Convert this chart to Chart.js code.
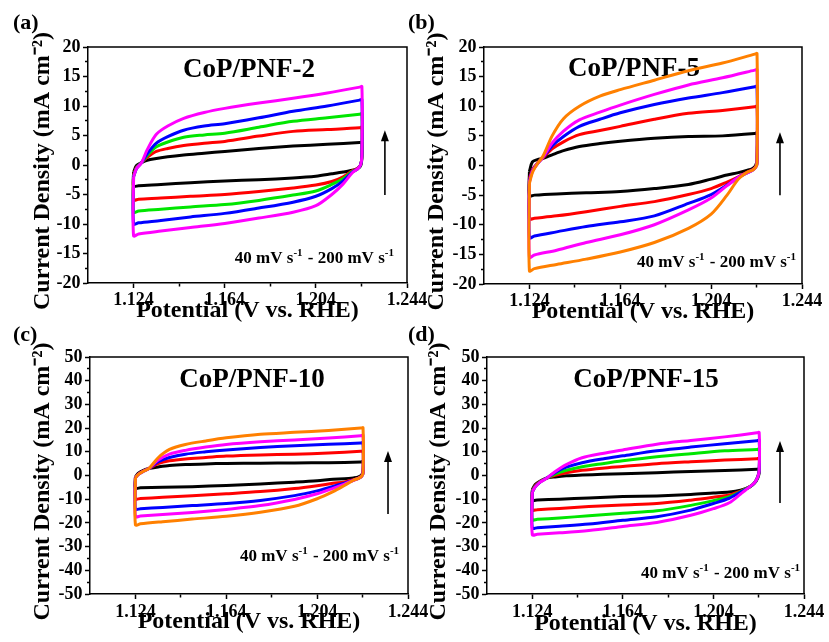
<!DOCTYPE html>
<html lang="en">
<head>
<meta charset="UTF-8">
<title>CoP/PNF cyclic voltammetry</title>
<script src="https://cdn.jsdelivr.net/npm/chart.js"></script>
<style>
  body { margin: 0; background: #fff; }
  #wrap { position: relative; width: 829px; height: 642px; }
  #wrap canvas { position: absolute; left: 0; top: 0; }
</style>
</head>
<body>
<div id="wrap">
  <canvas id="panelA" width="829" height="642"></canvas>
  <canvas id="panelB" width="829" height="642"></canvas>
  <canvas id="panelC" width="829" height="642"></canvas>
  <canvas id="panelD" width="829" height="642"></canvas>
</div>
<script>
// potential grid (V vs. RHE): anodic sweep left->right, cathodic sweep right->left
const xUp   = [1.124, 1.1253, 1.1275, 1.130, 1.134, 1.139, 1.146, 1.155, 1.164, 1.179, 1.194, 1.209, 1.2232, 1.2242];
const xDown = [1.2242, 1.2236, 1.2222, 1.220, 1.216, 1.211, 1.204, 1.194, 1.179, 1.164, 1.149, 1.136, 1.1262, 1.124];

const scanRates = [40, 80, 120, 160, 200]; // mV/s

const xTicks = [1.124, 1.144, 1.164, 1.184, 1.204, 1.224, 1.244];
const xLabels = [1.124, 1.164, 1.204, 1.244];
const yTicks20 = [-20, -17.5, -15, -12.5, -10, -7.5, -5, -2.5, 0, 2.5, 5, 7.5, 10, 12.5, 15, 17.5, 20];
const yLabels20 = [-20, -15, -10, -5, 0, 5, 10, 15, 20];
const yTicks50 = [-50, -45, -40, -35, -30, -25, -20, -15, -10, -5, 0, 5, 10, 15, 20, 25, 30, 35, 40, 45, 50];
const yLabels50 = [-50, -40, -30, -20, -10, 0, 10, 20, 30, 40, 50];

// current density (mA cm-2), one row per scan rate, slowest first
// CoP/PNF-2
const pnf2Up = [
  [-1.2, -0.1, 0.4, 0.8, 1.1, 1.4, 1.7, 2.0, 2.3, 2.8, 3.2, 3.5, 3.8, 3.8],
  [-1.6, -0.4, 0.4, 1.3, 2.3, 2.8, 3.3, 3.7, 4.0, 4.9, 5.7, 6.0, 6.3, 6.4],
  [-1.8, -0.5, 0.4, 1.6, 3.1, 3.9, 4.7, 5.1, 5.4, 6.4, 7.4, 8.0, 8.6, 8.7],
  [-2.0, -0.6, 0.4, 1.9, 3.7, 4.8, 5.9, 6.6, 7.0, 8.0, 9.1, 10.0, 11.0, 11.1],
  [-2.0, -0.6, 0.4, 2.6, 5.2, 6.6, 7.9, 8.9, 9.6, 10.5, 11.3, 12.2, 13.2, 13.3]
];
const pnf2Down = [
  [1.2, -0.2, -0.6, -0.9, -1.2, -1.5, -1.9, -2.2, -2.5, -2.7, -3.0, -3.3, -3.5, -3.6],
  [1.5, 0.0, -0.6, -1.0, -2.0, -2.8, -3.4, -3.9, -4.5, -5.0, -5.3, -5.6, -5.8, -5.9],
  [1.5, 0.0, -0.7, -1.1, -2.3, -3.3, -4.4, -5.1, -6.0, -6.7, -7.1, -7.5, -7.8, -8.0],
  [1.5, 0.0, -0.7, -1.2, -2.7, -4.0, -5.3, -6.3, -7.3, -8.2, -8.8, -9.4, -9.8, -10.0],
  [1.5, 0.0, -0.7, -1.3, -3.2, -5.0, -6.9, -8.0, -9.0, -9.9, -10.6, -11.2, -11.7, -12.0]
];
// CoP/PNF-5
const pnf5Up = [
  [-1.0, 0.6, 1.0, 1.2, 1.8, 2.5, 3.2, 3.7, 4.1, 4.6, 4.9, 5.0, 5.4, 5.5],
  [-2.2, -0.7, 0.4, 1.3, 2.8, 4.0, 5.2, 5.9, 6.6, 7.8, 8.8, 9.3, 9.9, 10.0],
  [-2.6, -0.9, 0.3, 1.4, 3.3, 4.9, 6.6, 7.8, 8.9, 10.3, 11.4, 12.3, 13.3, 13.4],
  [-2.8, -1.0, 0.3, 1.4, 3.8, 5.8, 7.7, 9.0, 10.2, 12.0, 13.6, 14.8, 16.1, 16.2],
  [-3.0, -1.2, 0.3, 1.6, 5.0, 7.9, 10.0, 11.7, 12.8, 14.4, 16.0, 17.3, 18.8, 18.9]
];
const pnf5Down = [
  [1.0, 0.0, -0.5, -0.8, -1.2, -1.6, -2.3, -3.2, -3.9, -4.4, -4.6, -4.8, -5.0, -5.1],
  [0.6, -0.2, -0.7, -1.1, -1.9, -2.8, -3.9, -4.9, -6.1, -6.9, -7.8, -8.5, -8.9, -9.0],
  [0.4, -0.3, -0.8, -1.2, -2.0, -3.3, -4.9, -6.4, -8.5, -9.5, -10.3, -11.2, -11.9, -12.2],
  [0.4, -0.3, -0.8, -1.2, -2.0, -3.4, -5.5, -7.5, -10.0, -11.7, -13.0, -14.3, -15.1, -15.5],
  [0.4, -0.3, -0.8, -1.1, -2.3, -5.0, -8.2, -10.6, -13.0, -14.6, -15.8, -16.7, -17.4, -17.8]
];
// CoP/PNF-10
const pnf10Up = [
  [-0.5, 1.0, 2.2, 3.0, 3.6, 4.2, 4.6, 4.9, 5.1, 5.2, 5.3, 5.4, 5.7, 5.8],
  [-0.8, 0.6, 1.9, 3.0, 5.0, 6.2, 7.0, 7.6, 8.2, 8.7, 9.0, 9.5, 10.2, 10.3],
  [-1.0, 0.5, 1.8, 3.0, 5.8, 7.6, 9.0, 10.0, 10.8, 11.8, 12.6, 13.2, 13.7, 13.8],
  [-1.0, 0.5, 1.8, 3.0, 6.5, 9.0, 10.6, 12.0, 13.1, 14.2, 15.0, 15.8, 16.8, 16.9],
  [-1.0, 0.5, 1.8, 3.0, 7.5, 11.0, 13.1, 14.6, 15.9, 17.4, 18.2, 19.0, 20.0, 20.1]
];
const pnf10Down = [
  [2.0, 0.3, -0.6, -1.0, -1.4, -1.6, -2.2, -2.8, -3.6, -4.2, -4.7, -5.0, -5.2, -5.3],
  [1.2, -0.2, -1.1, -1.8, -2.7, -3.3, -4.3, -5.5, -6.8, -7.7, -8.5, -9.2, -9.7, -9.9],
  [1.0, -0.3, -1.2, -2.0, -3.2, -4.6, -6.5, -8.5, -10.5, -11.8, -12.7, -13.5, -14.0, -14.2],
  [1.0, -0.3, -1.2, -2.0, -3.6, -5.4, -7.7, -10.1, -12.7, -14.3, -15.6, -16.5, -17.1, -17.3],
  [1.0, -0.3, -1.2, -2.0, -4.2, -6.8, -9.8, -13.0, -15.5, -17.2, -18.4, -19.5, -20.4, -20.8]
];
// CoP/PNF-15
const pnf15Up = [
  [-6.0, -3.8, -2.3, -1.2, -0.6, -0.1, 0.2, 0.5, 0.7, 1.2, 1.7, 2.1, 2.6, 2.7],
  [-6.5, -4.3, -2.5, -1.2, 0.1, 1.2, 2.2, 3.1, 3.8, 5.0, 5.8, 6.5, 7.1, 7.2],
  [-7.0, -4.6, -2.7, -1.3, 0.6, 2.2, 3.7, 5.0, 6.2, 7.9, 9.2, 10.4, 11.0, 11.1],
  [-7.0, -4.8, -2.8, -1.3, 1.2, 3.5, 5.4, 7.0, 8.3, 10.4, 12.0, 13.4, 14.7, 14.8],
  [-7.0, -4.8, -2.8, -1.4, 1.6, 4.6, 7.5, 9.3, 10.8, 13.2, 14.8, 16.3, 18.0, 18.1]
];
const pnf15Down = [
  [1.0, -1.0, -3.2, -4.8, -6.2, -7.0, -7.4, -8.0, -8.6, -8.9, -9.5, -10.0, -10.3, -10.4],
  [2.0, -0.5, -3.0, -4.8, -6.6, -8.2, -9.2, -10.4, -11.8, -12.4, -13.1, -13.9, -14.4, -14.6],
  [2.0, -0.5, -3.0, -4.8, -6.8, -8.9, -10.6, -12.6, -14.9, -15.9, -17.0, -17.9, -18.5, -18.7],
  [2.0, -0.5, -3.0, -4.8, -7.0, -9.6, -11.8, -14.6, -17.4, -18.9, -20.5, -21.4, -22.0, -22.2],
  [2.0, -0.5, -3.0, -4.8, -7.8, -11.5, -14.0, -16.8, -19.8, -21.5, -23.2, -24.2, -24.8, -25.0]
];

const serif = "'Liberation Serif', 'Times New Roman', serif";
const BLACK = '#000000', RED = '#ff0000', GREEN = '#00e600', BLUE = '#0000ff', MAGENTA = '#ff00ff', ORANGE = '#ff8000';

// layout of each panel: plot box [left, top, right, bottom] in page pixels, plus text spots
const panels = [
  { id: 'panelA', tag: '(a)', tagAt: [13, 28.5], name: 'CoP/PNF-2', nameAt: [1.1747, 16.1],
    box: [88, 47, 407, 283], ymin: -20, ymax: 20, yTicks: yTicks20, yLabels: yLabels20,
    up: pnf2Up, down: pnf2Down, colors: [BLACK, RED, GREEN, BLUE, MAGENTA],
    noteAt: [1.2387, -16.6], arrow: [1.2343, -5.1, 5.9], yTitlePad: 4.8, xTitlePad: 5.5, xTickPad: 3 },
  { id: 'panelB', tag: '(b)', tagAt: [408, 28.5], name: 'CoP/PNF-5', nameAt: [1.170, 16.3],
    box: [484, 47, 802, 284], ymin: -20, ymax: 20, yTicks: yTicks20, yLabels: yLabels20,
    up: pnf5Up, down: pnf5Down, colors: [BLACK, RED, BLUE, MAGENTA, ORANGE],
    noteAt: [1.2418, -17.2], arrow: [1.2343, -5.0, 5.6], yTitlePad: 2.8, xTitlePad: 5.5, xTickPad: 3 },
  { id: 'panelC', tag: '(c)', tagAt: [13, 341], name: 'CoP/PNF-10', nameAt: [1.1753, 40.3],
    box: [90, 357, 408, 594], ymin: -50, ymax: 50, yTicks: yTicks50, yLabels: yLabels50,
    up: pnf10Up, down: pnf10Down, colors: [BLACK, RED, BLUE, MAGENTA, ORANGE],
    noteAt: [1.2405, -36.1], arrow: [1.2352, -16.2, 10.3], yTitlePad: 2.8, xTitlePad: 4.9, xTickPad: 4 },
  { id: 'panelD', tag: '(d)', tagAt: [408, 341], name: 'CoP/PNF-15', nameAt: [1.1742, 40.3],
    box: [487, 357, 804, 594], ymin: -50, ymax: 50, yTicks: yTicks50, yLabels: yLabels50,
    up: pnf15Up, down: pnf15Down, colors: [BLACK, RED, GREEN, BLUE, MAGENTA],
    noteAt: [1.2427, -43.2], arrow: [1.2334, -11.6, 14.6], yTitlePad: 1.5, xTitlePad: 3.2, xTickPad: 4 }
];

const Y_AXIS_W = 62, X_AXIS_H = 45;

function loop(up, down) {
  const pts = xUp.map((x, i) => ({ x: x, y: up[i] }));
  xDown.forEach((x, i) => pts.push({ x: x, y: down[i] }));
  pts.push(pts[0]);
  return pts;
}

// frame, panel tag, sample name, scan-rate note and arrow
const decor = {
  id: 'decor',
  beforeDatasetsDraw(chart, args, o) {
    const { ctx, chartArea: ca } = chart;
    const x = chart.scales.x, y = chart.scales.y;
    ctx.save();
    ctx.fillStyle = '#000';
    ctx.strokeStyle = '#000';
    ctx.lineWidth = 1.5;
    ctx.beginPath();
    ctx.moveTo(ca.left, ca.top);
    ctx.lineTo(ca.right, ca.top);
    ctx.lineTo(ca.right, ca.bottom);
    ctx.stroke();

    ctx.font = 'bold 22px ' + serif;
    ctx.textAlign = 'left';
    ctx.textBaseline = 'alphabetic';
    ctx.fillText(o.tag, o.tagAt[0], o.tagAt[1]);

    ctx.font = 'bold 27px ' + serif;
    ctx.textAlign = 'center';
    ctx.textBaseline = 'middle';
    ctx.fillText(o.name, x.getPixelForValue(o.nameAt[0]), y.getPixelForValue(o.nameAt[1]));

    // "40 mV s-1 - 200 mV s-1" with raised exponents
    const parts = [['40 mV s', false], ['-1', true], [' - 200 mV s', false], ['-1', true]];
    const mainFont = 'bold 17px ' + serif, supFont = 'bold 11px ' + serif;
    let w = 0;
    parts.forEach(([t, sup]) => { ctx.font = sup ? supFont : mainFont; w += ctx.measureText(t).width + (sup ? 1 : 0); });
    let px = x.getPixelForValue(o.noteAt[0]) - w;
    const base = y.getPixelForValue(o.noteAt[1]);
    ctx.textAlign = 'left';
    ctx.textBaseline = 'alphabetic';
    parts.forEach(([t, sup]) => {
      ctx.font = sup ? supFont : mainFont;
      ctx.fillText(t, px, sup ? base - 7 : base);
      px += ctx.measureText(t).width + (sup ? 1 : 0);
    });

    // scan-rate arrow
    const ax = x.getPixelForValue(o.arrow[0]);
    const y0 = y.getPixelForValue(o.arrow[1]), y1 = y.getPixelForValue(o.arrow[2]);
    ctx.lineWidth = 1.6;
    ctx.beginPath();
    ctx.moveTo(ax, y0);
    ctx.lineTo(ax, y1 + 8);
    ctx.stroke();
    ctx.beginPath();
    ctx.moveTo(ax, y1);
    ctx.lineTo(ax - 4, y1 + 11);
    ctx.lineTo(ax + 4, y1 + 11);
    ctx.closePath();
    ctx.fill();
    ctx.restore();
  }
};

Chart.defaults.font.family = serif;
Chart.defaults.color = '#000';

const tickFont = { family: serif, size: 18, weight: 'bold', lineHeight: 1 };
const titleFont = { family: serif, size: 24, weight: 'bold', lineHeight: 1 };

panels.forEach(p => {
  const [l, t, r, b] = p.box;
  const n = p.up.length;
  const datasets = p.up.map((row, i) => ({
    label: scanRates[i] + ' mV/s',
    data: loop(row, p.down[i]),
    borderColor: p.colors[i],
    borderWidth: 3,
    borderJoinStyle: 'round',
    pointRadius: 0,
    showLine: true,
    tension: 0.3,
    order: n - i
  }));

  new Chart(document.getElementById(p.id), {
    type: 'scatter',
    data: { datasets: datasets },
    plugins: [decor],
    options: {
      responsive: false,
      animation: false,
      events: [],
      layout: { padding: { left: l - Y_AXIS_W, top: t, right: 829 - r, bottom: 642 - b - X_AXIS_H } },
      plugins: {
        legend: { display: false },
        tooltip: { enabled: false },
        decor: p
      },
      scales: {
        x: {
          type: 'linear', min: 1.104, max: 1.244,
          afterBuildTicks: s => { s.ticks = xTicks.map(v => ({ value: v })); },
          afterFit: s => { s.height = X_AXIS_H; },
          ticks: {
            autoSkip: false, maxRotation: 0, font: tickFont, color: '#000', padding: p.xTickPad,
            callback: v => xLabels.includes(v) ? v.toFixed(3) : ''
          },
          grid: {
            drawOnChartArea: false, tickLength: 5, tickWidth: 1.5, tickColor: '#000',
            tickBorderDash: c => (c.tick && !xLabels.includes(c.tick.value)) ? [3, 100] : []
          },
          border: { color: '#000', width: 1.5 },
          title: { display: true, text: 'Potential (V vs. RHE)', font: titleFont, color: '#000',
                   padding: { top: 0, bottom: p.xTitlePad } }
        },
        y: {
          type: 'linear', min: p.ymin, max: p.ymax,
          afterBuildTicks: s => { s.ticks = p.yTicks.map(v => ({ value: v })); },
          afterFit: s => { s.width = Y_AXIS_W; },
          ticks: {
            autoSkip: false, font: tickFont, color: '#000', padding: 2.5,
            callback: v => p.yLabels.includes(v) ? String(v) : ''
          },
          grid: {
            drawOnChartArea: false, tickLength: 5, tickWidth: 1.5, tickColor: '#000',
            tickBorderDash: c => (c.tick && !p.yLabels.includes(c.tick.value)) ? [0, 2, 3, 100] : []
          },
          border: { color: '#000', width: 1.5 },
          // trailing en space nudges the centred title down a little, as in the original
          title: { display: true, text: 'Current Density (mA cm\u207B\u00B2)\u2002', font: titleFont, color: '#000',
                   padding: { top: p.yTitlePad, bottom: 0 } }
        }
      }
    }
  });
});
</script>
</body>
</html>
